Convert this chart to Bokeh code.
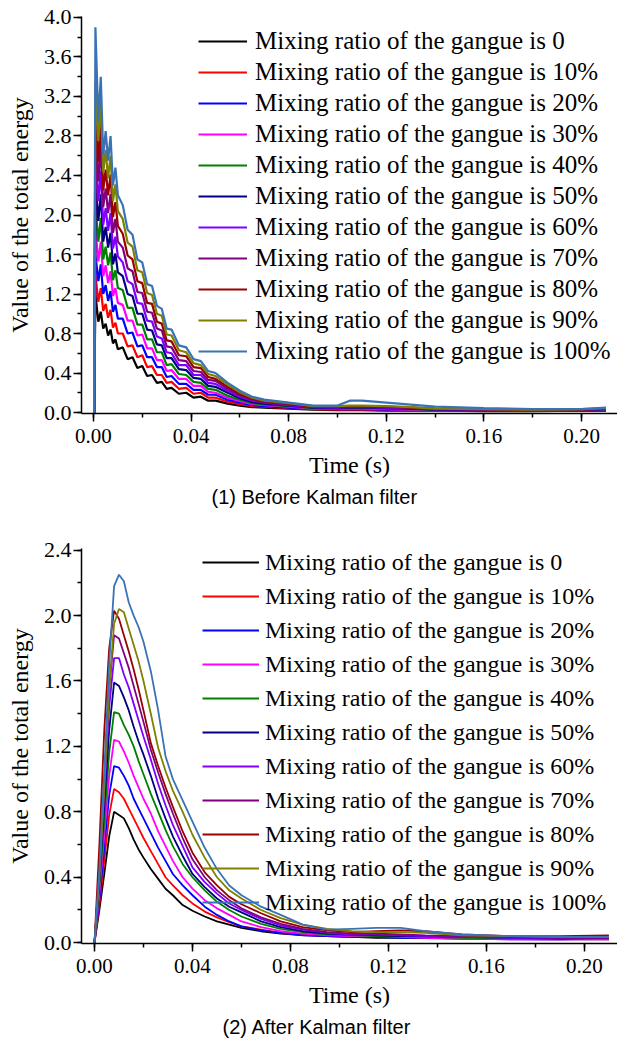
from bokeh.plotting import figure
from bokeh.layouts import column
from bokeh.models import Range1d, SingleIntervalTicker, PrintfTickFormatter, Title
from bokeh.embed import file_html
from bokeh.resources import INLINE

labels = ["Mixing ratio of the gangue is 0", "Mixing ratio of the gangue is 10%",
          "Mixing ratio of the gangue is 20%", "Mixing ratio of the gangue is 30%",
          "Mixing ratio of the gangue is 40%", "Mixing ratio of the gangue is 50%",
          "Mixing ratio of the gangue is 60%", "Mixing ratio of the gangue is 70%",
          "Mixing ratio of the gangue is 80%", "Mixing ratio of the gangue is 90%",
          "Mixing ratio of the gangue is 100%"]
colors = ["#000000", "#FF0000", "#0000FF", "#FF00FF", "#008000", "#000080",
          "#8000FF", "#800080", "#990000", "#808000", "#3A73B5"]

# ---------- (1) Before Kalman filter ----------
t1 = [0, 0.0003, 0.0008, 0.002, 0.003, 0.004, 0.005, 0.006, 0.007, 0.008, 0.009, 0.010,
      0.012, 0.014, 0.016, 0.018, 0.020, 0.022, 0.024, 0.026, 0.028, 0.030, 0.032,
      0.035, 0.038, 0.041, 0.044, 0.047, 0.050, 0.055, 0.060, 0.065, 0.070,
      0.080, 0.090, 0.100, 0.105, 0.110, 0.120, 0.130, 0.140, 0.160, 0.180, 0.200, 0.210]

b_0 = [0, 0, 1.20, 0.92, 1.02, 0.85, 0.90, 0.78, 0.84, 0.70, 0.74, 0.64,
       0.66, 0.54, 0.56, 0.45, 0.47, 0.37, 0.38, 0.30, 0.31, 0.24, 0.25,
       0.19, 0.20, 0.15, 0.16, 0.12, 0.12, 0.09, 0.07, 0.055, 0.05,
       0.04, 0.03, 0.025, 0.025, 0.025, 0.02, 0.02, 0.02, 0.015, 0.015, 0.02, 0.02]
b_10 = [0, 0, 1.40, 1.12, 1.26, 1.03, 1.10, 0.96, 1.04, 0.86, 0.91, 0.80,
        0.80, 0.67, 0.68, 0.56, 0.58, 0.46, 0.47, 0.38, 0.38, 0.30, 0.31,
        0.24, 0.25, 0.19, 0.20, 0.15, 0.15, 0.11, 0.085, 0.065, 0.06,
        0.045, 0.035, 0.03, 0.03, 0.03, 0.025, 0.025, 0.02, 0.02, 0.02, 0.02, 0.025]
b_20 = [0, 0, 1.60, 1.33, 1.50, 1.20, 1.29, 1.13, 1.23, 1.02, 1.09, 0.95,
        0.95, 0.80, 0.81, 0.67, 0.68, 0.56, 0.56, 0.46, 0.46, 0.36, 0.37,
        0.29, 0.29, 0.23, 0.23, 0.18, 0.18, 0.13, 0.10, 0.075, 0.065,
        0.05, 0.04, 0.035, 0.035, 0.035, 0.03, 0.03, 0.025, 0.02, 0.02, 0.02, 0.025]
b_30 = [0, 0, 1.85, 1.53, 1.73, 1.38, 1.49, 1.31, 1.43, 1.18, 1.26, 1.11,
        1.09, 0.93, 0.93, 0.78, 0.79, 0.65, 0.65, 0.53, 0.53, 0.42, 0.43,
        0.34, 0.34, 0.27, 0.27, 0.21, 0.20, 0.15, 0.115, 0.085, 0.075,
        0.06, 0.04, 0.04, 0.04, 0.04, 0.035, 0.03, 0.025, 0.025, 0.02, 0.025, 0.03]
b_40 = [0, 0, 2.10, 1.73, 1.97, 1.55, 1.68, 1.49, 1.62, 1.34, 1.44, 1.26,
        1.24, 1.06, 1.06, 0.89, 0.89, 0.74, 0.74, 0.61, 0.61, 0.48, 0.49,
        0.39, 0.38, 0.31, 0.30, 0.24, 0.23, 0.17, 0.13, 0.095, 0.08,
        0.065, 0.045, 0.04, 0.045, 0.045, 0.04, 0.035, 0.03, 0.025, 0.02, 0.025, 0.03]
b_50 = [0, 0, 2.35, 1.94, 2.21, 1.73, 1.88, 1.67, 1.82, 1.50, 1.61, 1.42,
        1.38, 1.20, 1.18, 1.00, 1.00, 0.84, 0.83, 0.69, 0.68, 0.55, 0.55,
        0.44, 0.43, 0.35, 0.34, 0.27, 0.26, 0.20, 0.145, 0.105, 0.09,
        0.07, 0.05, 0.045, 0.05, 0.05, 0.045, 0.04, 0.03, 0.025, 0.025, 0.025, 0.035]
b_60 = [0, 0, 2.60, 2.14, 2.45, 1.90, 2.07, 1.84, 2.02, 1.66, 1.78, 1.58,
        1.52, 1.33, 1.30, 1.11, 1.10, 0.93, 0.92, 0.77, 0.75, 0.61, 0.60,
        0.48, 0.48, 0.38, 0.38, 0.30, 0.29, 0.22, 0.16, 0.12, 0.10,
        0.075, 0.055, 0.05, 0.055, 0.055, 0.05, 0.045, 0.035, 0.03, 0.025, 0.03, 0.035]
b_70 = [0, 0, 2.85, 2.34, 2.69, 2.08, 2.27, 2.02, 2.21, 1.82, 1.96, 1.73,
        1.67, 1.46, 1.43, 1.22, 1.21, 1.02, 1.01, 0.85, 0.83, 0.67, 0.66,
        0.53, 0.52, 0.42, 0.41, 0.33, 0.32, 0.24, 0.175, 0.13, 0.105,
        0.08, 0.06, 0.055, 0.06, 0.06, 0.055, 0.05, 0.035, 0.03, 0.025, 0.03, 0.04]
b_80 = [0, 0, 3.10, 2.54, 2.92, 2.25, 2.46, 2.20, 2.41, 1.98, 2.13, 1.89,
        1.81, 1.59, 1.55, 1.33, 1.31, 1.11, 1.10, 0.92, 0.90, 0.73, 0.72,
        0.58, 0.57, 0.46, 0.45, 0.36, 0.34, 0.26, 0.19, 0.14, 0.115,
        0.09, 0.06, 0.06, 0.065, 0.065, 0.06, 0.05, 0.04, 0.035, 0.03, 0.03, 0.04]
b_90 = [0, 0, 3.35, 2.75, 3.16, 2.43, 2.66, 2.37, 2.60, 2.14, 2.31, 2.04,
        1.96, 1.72, 1.68, 1.44, 1.42, 1.21, 1.19, 1.00, 0.98, 0.79, 0.78,
        0.63, 0.61, 0.50, 0.48, 0.39, 0.37, 0.28, 0.205, 0.15, 0.12,
        0.095, 0.065, 0.065, 0.07, 0.07, 0.065, 0.055, 0.04, 0.035, 0.03, 0.035, 0.045]
b_100 = [0, 0, 3.90, 2.95, 3.40, 2.60, 2.85, 2.55, 2.80, 2.30, 2.48, 2.20,
         2.10, 1.85, 1.80, 1.55, 1.52, 1.30, 1.28, 1.08, 1.05, 0.85, 0.84,
         0.68, 0.66, 0.54, 0.52, 0.42, 0.40, 0.30, 0.22, 0.16, 0.13,
         0.10, 0.07, 0.07, 0.12, 0.12, 0.10, 0.08, 0.06, 0.045, 0.035, 0.035, 0.05]
before = [b_0, b_10, b_20, b_30, b_40, b_50, b_60, b_70, b_80, b_90, b_100]

# ---------- (2) After Kalman filter ----------
t2 = [0, 0.002, 0.004, 0.006, 0.008, 0.010, 0.012, 0.014, 0.016, 0.018, 0.020,
      0.023, 0.026, 0.029, 0.032, 0.036, 0.040, 0.045, 0.050, 0.055, 0.060,
      0.068, 0.076, 0.085, 0.095, 0.105, 0.115, 0.125, 0.135, 0.150, 0.170, 0.190, 0.210]

a_0 = [0, 0.20, 0.42, 0.65, 0.80, 0.78, 0.76, 0.70, 0.63, 0.57, 0.52,
       0.45, 0.39, 0.33, 0.29, 0.23, 0.195, 0.16, 0.13, 0.11, 0.09,
       0.07, 0.055, 0.047, 0.04, 0.035, 0.03, 0.03, 0.028, 0.025, 0.022, 0.02, 0.02]
a_10 = [0, 0.23, 0.50, 0.78, 0.94, 0.92, 0.88, 0.82, 0.76, 0.70, 0.64,
        0.56, 0.48, 0.40, 0.35, 0.29, 0.24, 0.19, 0.155, 0.125, 0.10,
        0.08, 0.06, 0.05, 0.04, 0.035, 0.035, 0.04, 0.035, 0.03, 0.025, 0.025, 0.03]
a_20 = [0, 0.26, 0.58, 0.90, 1.08, 1.07, 1.02, 0.96, 0.88, 0.82, 0.76,
        0.67, 0.58, 0.50, 0.42, 0.35, 0.29, 0.22, 0.17, 0.13, 0.10,
        0.075, 0.06, 0.045, 0.04, 0.035, 0.035, 0.03, 0.03, 0.025, 0.02, 0.02, 0.025]
a_30 = [0, 0.30, 0.66, 1.02, 1.24, 1.23, 1.17, 1.10, 1.02, 0.95, 0.88,
        0.79, 0.68, 0.59, 0.50, 0.40, 0.33, 0.26, 0.21, 0.17, 0.13,
        0.095, 0.07, 0.055, 0.045, 0.04, 0.04, 0.035, 0.03, 0.025, 0.02, 0.02, 0.02]
a_40 = [0, 0.34, 0.75, 1.16, 1.41, 1.40, 1.33, 1.27, 1.20, 1.11, 1.03,
        0.91, 0.80, 0.69, 0.59, 0.48, 0.40, 0.32, 0.25, 0.20, 0.16,
        0.115, 0.085, 0.065, 0.05, 0.045, 0.04, 0.04, 0.035, 0.03, 0.025, 0.025, 0.025]
a_50 = [0, 0.38, 0.84, 1.30, 1.59, 1.57, 1.50, 1.42, 1.32, 1.23, 1.15,
        1.02, 0.88, 0.76, 0.65, 0.53, 0.42, 0.34, 0.27, 0.22, 0.185,
        0.13, 0.095, 0.07, 0.055, 0.05, 0.045, 0.04, 0.04, 0.035, 0.03, 0.025, 0.03]
a_60 = [0, 0.42, 0.92, 1.44, 1.74, 1.74, 1.64, 1.56, 1.46, 1.36, 1.26,
        1.12, 0.97, 0.84, 0.72, 0.59, 0.46, 0.37, 0.30, 0.24, 0.20,
        0.145, 0.105, 0.08, 0.06, 0.05, 0.05, 0.045, 0.04, 0.035, 0.03, 0.03, 0.03]
a_70 = [0, 0.45, 0.99, 1.55, 1.88, 1.86, 1.77, 1.68, 1.57, 1.46, 1.35,
        1.18, 1.04, 0.91, 0.79, 0.64, 0.51, 0.40, 0.32, 0.26, 0.21,
        0.155, 0.115, 0.085, 0.065, 0.055, 0.055, 0.05, 0.045, 0.04, 0.035, 0.03, 0.03]
a_80 = [0, 0.60, 1.30, 1.80, 2.03, 1.98, 1.88, 1.78, 1.67, 1.55, 1.42,
        1.22, 1.08, 0.95, 0.83, 0.68, 0.55, 0.43, 0.35, 0.28, 0.235,
        0.18, 0.13, 0.095, 0.075, 0.065, 0.07, 0.075, 0.07, 0.05, 0.04, 0.04, 0.045]
a_90 = [0, 0.40, 0.95, 1.55, 1.95, 2.04, 2.02, 1.92, 1.82, 1.72, 1.60,
        1.40, 1.19, 1.05, 0.93, 0.80, 0.66, 0.52, 0.40, 0.32, 0.27,
        0.20, 0.15, 0.11, 0.085, 0.07, 0.065, 0.065, 0.06, 0.045, 0.04, 0.035, 0.035]
a_100 = [0, 0.45, 1.05, 1.70, 2.18, 2.25, 2.21, 2.08, 2.00, 1.93, 1.84,
         1.66, 1.42, 1.14, 1.00, 0.87, 0.74, 0.58, 0.45, 0.35, 0.29,
         0.22, 0.17, 0.11, 0.08, 0.085, 0.09, 0.09, 0.07, 0.05, 0.04, 0.035, 0.035]
after = [a_0, a_10, a_20, a_30, a_40, a_50, a_60, a_70, a_80, a_90, a_100]

SERIF = "Liberation Serif"
SANS = "Liberation Sans"


def make_panel(t, series, height, top, bottom, left, xr, yr, caption, cap_offset,
               lw, leg_xy, glyph_w, standoff, spacing, leg_font):
    p = figure(width=617, height=height, output_backend="svg", toolbar_location=None,
               x_range=Range1d(*xr), y_range=Range1d(*yr),
               min_border_left=left, min_border_right=0, min_border_top=top,
               min_border_bottom=bottom)
    p.outline_line_color = None
    p.xgrid.visible = False
    p.ygrid.visible = False
    for ys, c, lab in zip(series, colors, labels):
        p.line(t, ys, line_color=c, line_width=lw, legend_label=lab)

    xax = p.below[0]
    yax = p.left[0]
    xax.ticker = SingleIntervalTicker(interval=0.04, num_minor_ticks=2)
    xax.formatter = PrintfTickFormatter(format="%.2f")
    yax.ticker = SingleIntervalTicker(interval=0.4, num_minor_ticks=2)
    yax.formatter = PrintfTickFormatter(format="%.1f")
    for ax in (xax, yax):
        ax.axis_line_width = 1.5
        ax.axis_line_color = "black"
        ax.major_tick_line_color = "black"
        ax.minor_tick_line_color = "black"
        ax.major_tick_line_width = 1.5
        ax.minor_tick_line_width = 1.5
        ax.major_tick_in = 0
        ax.minor_tick_in = 0
        ax.major_tick_out = 8
        ax.minor_tick_out = 4
        ax.major_label_text_font = SERIF
        ax.major_label_text_color = "black"
        ax.axis_label_text_font = SERIF
        ax.axis_label_text_font_style = "normal"
        ax.axis_label_text_font_size = "24px"
        ax.axis_label_text_color = "black"
    xax.major_label_text_font_size = "21px"
    yax.major_label_text_font_size = "22px"
    xax.major_label_standoff = 7
    yax.major_label_standoff = 2
    xax.axis_label = "Time (s)"
    yax.axis_label = "Value of the total energy"
    xax.axis_label_standoff = 6
    yax.axis_label_standoff = 8

    lg = p.legend[0]
    lg.location = leg_xy
    lg.background_fill_alpha = 0
    lg.border_line_alpha = 0
    lg.padding = 0
    lg.margin = 0
    lg.spacing = spacing
    lg.glyph_width = glyph_w
    lg.glyph_height = 28
    lg.label_height = 28
    lg.label_standoff = standoff
    lg.label_text_font = SERIF
    lg.label_text_font_size = leg_font
    lg.label_text_color = "black"

    cap = Title(text=caption, align="left", offset=cap_offset, text_font=SANS,
                text_font_size="20px", text_font_style="normal", text_color="black",
                standoff=6)
    p.add_layout(cap, "below")
    return p


p1 = make_panel(t1, before, 510, 16, 97, 79, (-0.0049, 0.2147), (-0.01, 4.01),
                "(1) Before Kalman filter", 130, 2.2, (117, 48), 49, 8, 3, "25px")
p2 = make_panel(t2, after, 533, 38, 100, 81, (-0.0053, 0.2135), (-0.005, 2.41),
                "(2) After Kalman filter", 141, 1.8, (121, 27), 57, 6, 6, "24px")

layout = column(p1, p2, spacing=0)
open("out.html", "w").write(file_html(layout, INLINE))
